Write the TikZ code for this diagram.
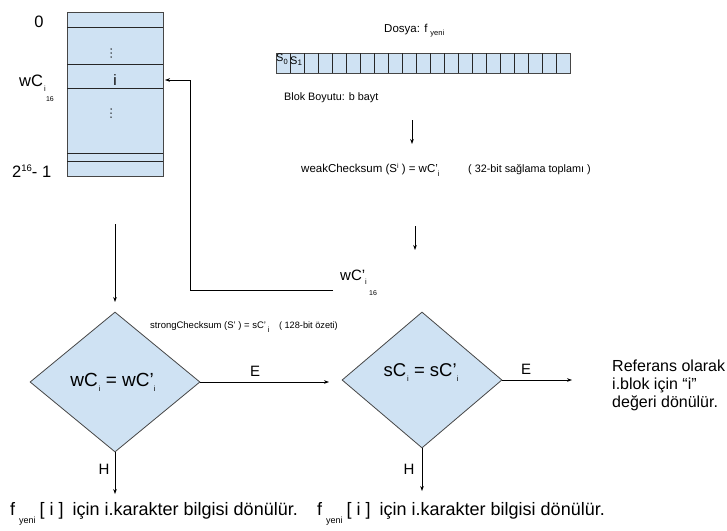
\documentclass[tikz,border=0pt]{standalone}
\usepackage{fontspec}
\setmainfont{Liberation Sans}
\usetikzlibrary{arrows.meta,shapes.geometric}
\definecolor{cellblue}{RGB}{207,226,243}
\definecolor{edgegray}{RGB}{70,70,70}
% size helper and a lowered tiny index
\newcommand\txtsize[1]{\fontsize{#1}{#1}\selectfont}
\newcommand\lowidx[2][5pt]{\raisebox{-#1}{\txtsize{7.5}#2}}
\newcommand\yenisub{\raisebox{-8pt}{\txtsize{9}yeni}}
\begin{document}
\begin{tikzpicture}[x=1pt,y=-1pt,
  boxline/.style={draw=edgegray,line width=0.8pt},
  sep/.style={draw=black!85,line width=0.7pt},
  arr/.style={-{Stealth[length=5pt,width=3.6pt]},line width=0.6pt},
  big/.style={inner sep=0pt,font=\txtsize{16.5}},
  small/.style={inner sep=0pt,font=\txtsize{10.8}},
  decision/.style={diamond,boxline,fill=cellblue,inner sep=0pt}]
\useasboundingbox (0,0) rectangle (727,530);

% ---- hash table of 2^16 slots
\node[boxline,fill=cellblue,minimum width=96pt,minimum height=164pt,inner sep=0pt] (tbl) at (115,94) {};
\foreach \yy in {27,64,88,153,161}
  \draw[sep] (67,\yy) -- (163,\yy);
\foreach \yy in {49,53,57,109,113,117}
  \fill (111,\yy) circle (0.75pt);
\node[big,font=\txtsize{15}] (slot) at (115,80) {i};
\node[big,anchor=center] (zero) at (39,22) {0};
\node[big,anchor=base west] (wci) at (19,86) {wC\hspace{1pt}\lowidx{i}};
\node[inner sep=0pt,font=\txtsize{7}] (wci16) at (50,99) {16};
\node[big,anchor=base west] (last) at (12,177) {2\raisebox{6pt}{\txtsize{9.5}16}- 1};

% ---- new file split into blocks
\node[small,anchor=base west,font=\txtsize{11.5}] (dosya) at (384,32) {Dosya: f\hspace{3pt}\lowidx[3pt]{yeni}};
\node[boxline,fill=cellblue,minimum width=294pt,minimum height=20pt,inner sep=0pt] (strip) at (423,63) {};
\foreach \k in {1,...,20}
  \draw[sep] (276+14*\k,53) -- (276+14*\k,73);
\node[inner sep=0pt,anchor=base west,font=\txtsize{11}] (s0) at (276,61) {S\lowidx[3pt]{0}};
\node[inner sep=0pt,anchor=base west,font=\txtsize{11}] (s1) at (290,64) {S\raisebox{-1pt}{\txtsize{8}1}};
\node[small,anchor=base west] (blok) at (284,100) {Blok Boyutu: b bayt};

% ---- weak checksum of a block
\coordinate (a1s) at (412,120);
\coordinate (a1e) at (412,144);
\draw[arr] (a1s) -- (a1e);
\node[small,anchor=base west,font=\txtsize{11.5}] (weak) at (301,172) {weakChecksum (S\raisebox{4pt}{\txtsize{7}i} ) = wC'\lowidx[4pt]{i}};
\node[small,anchor=base west] (weaknote) at (468,172) {( 32-bit sağlama toplamı )};
\coordinate (a2s) at (415,226);
\coordinate (a2e) at (415,250);
\draw[arr] (a2s) -- (a2e);
\node[big,anchor=base west,font=\txtsize{15}] (wcp) at (340,280) {wC'\lowidx[4pt]{i}};
\node[inner sep=0pt,font=\txtsize{7}] (wcp16) at (373,293) {16};

% lookup back into the table
\coordinate (bk1) at (333,290);
\coordinate (bk2) at (190,290);
\coordinate (bk3) at (190,80);
\coordinate (bk4) at (165,80);
\draw[arr] (bk1) -- (bk2) -- (bk3) -- (bk4);

% ---- strong checksum
\node[inner sep=0pt,anchor=base west,font=\txtsize{9.5}] (strong) at (150,328) {strongChecksum (S' ) = sC'\,\lowidx[4pt]{i}};
\node[inner sep=0pt,anchor=base east,font=\txtsize{9.2}] (strongnote) at (338,328) {( 128-bit özeti)};

% ---- decisions
\node[decision,minimum width=170pt,minimum height=140pt] (d1) at (115,382) {};
\node[big,font=\txtsize{19}] (d1t) at (113,382) {wC\hspace{1pt}\lowidx{i} = wC'\lowidx{i}};
\node[decision,minimum width=160pt,minimum height=136pt] (d2) at (422,380) {};
\node[big,font=\txtsize{18.5}] (d2t) at (421,373) {sC\hspace{1pt}\lowidx{i} = sC'\lowidx{i}};

\coordinate (t0) at (115,224);
\coordinate (t1) at (115,302);
\draw[arr] (t0) -- (t1);

\coordinate (e1) at (329,382);
\draw[arr] (d1.east) -- (e1);
\node[big,font=\txtsize{15}] (e1l) at (255,371) {E};
\coordinate (e2) at (572,380);
\draw[arr] (d2.east) -- (e2);
\node[big,font=\txtsize{15}] (e2l) at (526,369) {E};

\coordinate (h1) at (115,494);
\draw[arr] (d1.south) -- (h1);
\node[big,font=\txtsize{15}] (h1l) at (104,469) {H};
\coordinate (h2) at (422,491);
\draw[arr] (d2.south) -- (h2);
\node[big,font=\txtsize{15}] (h2l) at (409,469) {H};

% ---- outcomes
\node[inner sep=0pt,anchor=base west,font=\txtsize{18}] (out1) at (10,515)
  {f\hspace{4pt}\yenisub\hspace{4pt}[\hspace{5pt}i\hspace{5pt}]\hspace{9pt}için i.karakter bilgisi dönülür.};
\node[inner sep=0pt,anchor=base west,font=\txtsize{18}] (out2) at (317,515)
  {f\hspace{4pt}\yenisub\hspace{4pt}[\hspace{5pt}i\hspace{5pt}]\hspace{9pt}için i.karakter bilgisi dönülür.};
\node[inner sep=0pt,anchor=north west,align=left,font=\txtsize{16},text depth=0pt] (out3) at (612,360)
  {Referans olarak\\[2pt] i.blok için “i”\\[2pt] değeri dönülür.};
\end{tikzpicture}
\end{document}
